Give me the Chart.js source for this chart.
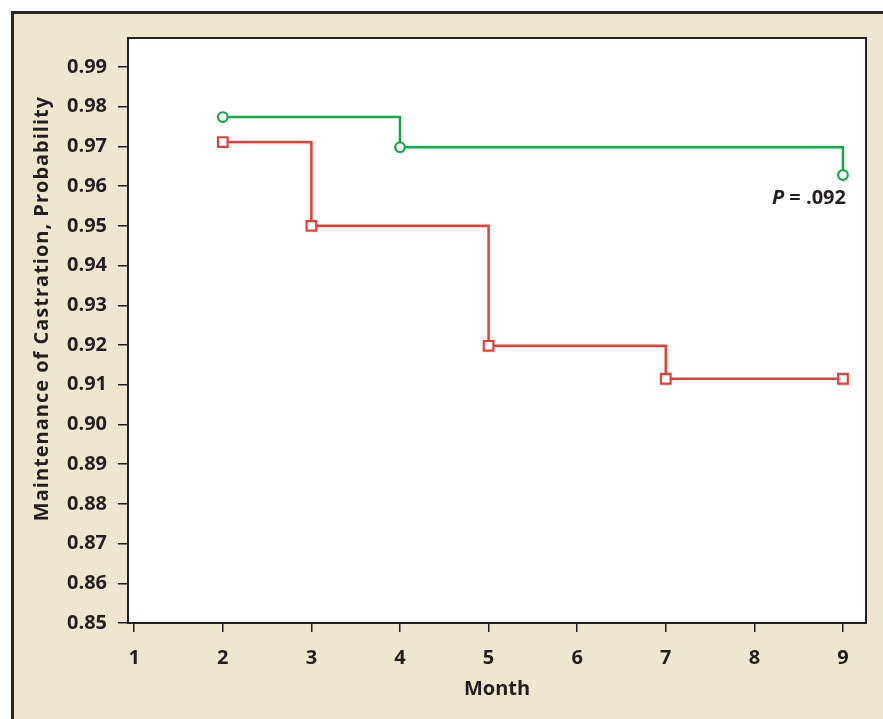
<!DOCTYPE html>
<html>
<head>
<meta charset="utf-8">
<script src="https://cdn.jsdelivr.net/npm/chart.js@4"></script>
<style>
  html, body { margin: 0; padding: 0; background: #fff; overflow: hidden; }
  #frame {
    position: absolute; left: 11px; top: 11px; width: 872px; height: 708px;
    box-sizing: border-box; border-left: 3px solid #2a2627; border-top: 3px solid #2a2627;
    background: #efe6cf;
  }
  #wrap { position: absolute; left: 0; top: 0; width: 883px; height: 719px; }
</style>
</head>
<body>
<div id="frame"></div>
<div id="wrap"><canvas id="myChart" width="883" height="719"></canvas></div>
<script>
var months = [1, 2, 3, 4, 5, 6, 7, 8, 9];
var probTicks = [0.85, 0.86, 0.87, 0.88, 0.89, 0.90, 0.91, 0.92, 0.93, 0.94, 0.95, 0.96, 0.97, 0.98, 0.99];

var greenX = [2, 4, 9];
var greenY = [0.9774, 0.9698, 0.9628];
var redX = [2, 3, 5, 7, 9];
var redY = [0.9711, 0.9500, 0.9198, 0.9115, 0.9115];

var pLabel = { x: 9, y: 0.9555, italic: 'P', rest: ' = .092' };
var yTitle = 'Maintenance of Castration, Probability';

var ink = '#231f20';
var fontFam = '"Open Sans", "DejaVu Sans", sans-serif';

function pts(xs, ys) {
    return xs.map(function (x, i) { return { x: x, y: ys[i] }; });
}

var plotBox = {
    id: 'plotBox',
    beforeDraw: function (chart) {
        var a = chart.chartArea, c = chart.ctx;
        c.save();
        c.fillStyle = '#ffffff';
        c.fillRect(a.left, a.top, a.right - a.left, a.bottom - a.top);
        c.restore();
    },
    afterDraw: function (chart) {
        var a = chart.chartArea, c = chart.ctx;
        c.save();
        c.strokeStyle = ink;
        c.lineWidth = 2;
        c.strokeRect(a.left, a.top, a.right - a.left, a.bottom - a.top);

        // y axis title, slightly tracked like the original
        c.save();
        c.translate(42, (a.top + a.bottom) / 2 - 22);
        c.rotate(-Math.PI / 2);
        c.fillStyle = ink;
        c.font = 'bold 20px ' + fontFam;
        c.textAlign = 'center';
        c.textBaseline = 'middle';
        if ('letterSpacing' in c) c.letterSpacing = '1px';
        c.fillText(yTitle, 0, 0);
        c.restore();

        // P value note
        var px = chart.scales.x.getPixelForValue(pLabel.x) + 3;
        var py = chart.scales.y.getPixelForValue(pLabel.y);
        c.fillStyle = ink;
        c.textBaseline = 'alphabetic';
        c.textAlign = 'left';
        c.font = 'bold 20px ' + fontFam;
        var restW = c.measureText(pLabel.rest).width;
        c.font = 'italic bold 20px ' + fontFam;
        var pW = c.measureText(pLabel.italic).width;
        var x0 = px - restW - pW;
        c.fillText(pLabel.italic, x0, py);
        c.font = 'bold 20px ' + fontFam;
        c.fillText(pLabel.rest, x0 + pW, py);
        c.restore();
    }
};

var ctx = document.getElementById('myChart').getContext('2d');
var myChart = new Chart(ctx, {
    type: 'line',
    data: {
        datasets: [{
            label: 'Green',
            data: pts(greenX, greenY),
            stepped: true,
            borderColor: '#15a84b',
            borderWidth: 2.5,
            pointStyle: 'circle',
            pointRadius: 4.8,
            pointBorderWidth: 2.2,
            pointBackgroundColor: '#ffffff',
            pointBorderColor: '#15a84b'
        },
        {
            label: 'Red',
            data: pts(redX, redY),
            stepped: true,
            borderColor: '#ee3b34',
            borderWidth: 2.5,
            pointStyle: 'rect',
            pointRadius: 6.8,
            pointBorderWidth: 2.2,
            pointBackgroundColor: '#ffffff',
            pointBorderColor: '#ee3b34'
        }]
    },
    options: {
        responsive: false,
        animation: false,
        devicePixelRatio: 1,
        layout: { padding: { left: 0, top: 38, right: 17, bottom: 0 } },
        plugins: {
            legend: { display: false },
            tooltip: { enabled: false }
        },
        scales: {
            x: {
                type: 'linear',
                min: 0.93,
                max: 9.26,
                afterBuildTicks: function (s) { s.ticks = months.map(function (v) { return { value: v }; }); },
                afterFit: function (s) { s.height = 96; },
                grid: { display: true, drawOnChartArea: false, drawTicks: true, tickLength: 9, color: ink, lineWidth: 1.5 },
                border: { display: false },
                ticks: {
                    color: ink, padding: 14,
                    font: { family: fontFam, size: 20, weight: 'bold' },
                    callback: function (v) { return String(v); }
                },
                title: {
                    display: true, text: 'Month', color: ink, padding: { top: 0, bottom: 18 },
                    font: { family: fontFam, size: 20, weight: 'bold' }
                }
            },
            y: {
                min: 0.85,
                max: 0.9973,
                afterBuildTicks: function (s) { s.ticks = probTicks.map(function (v) { return { value: v }; }); },
                afterFit: function (s) { s.width = 128; },
                grid: { display: true, drawOnChartArea: false, drawTicks: true, tickLength: 10, color: ink, lineWidth: 1.5 },
                border: { display: false },
                ticks: {
                    color: ink, padding: 11,
                    font: { family: fontFam, size: 20, weight: 'bold' },
                    callback: function (v) { return Number(v).toFixed(2); }
                },
                title: { display: false }
            }
        }
    },
    plugins: [plotBox]
});
</script>
</body>
</html>
